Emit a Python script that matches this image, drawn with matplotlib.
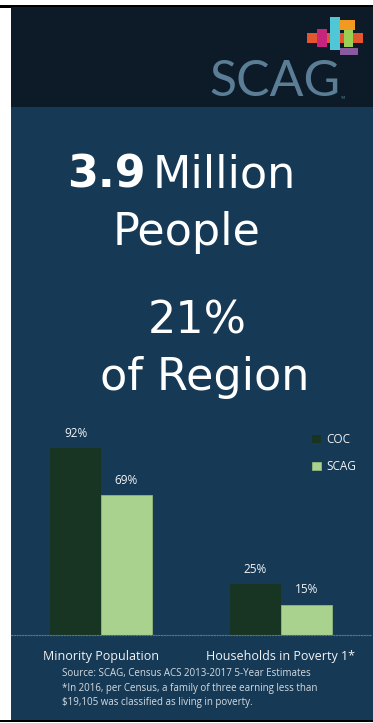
import matplotlib.pyplot as plt
from matplotlib.patches import Rectangle
import numpy as np

# data
categories = ["Minority Population", "Households in Poverty 1*"]
series = ["COC", "SCAG"]
coc_values = [92, 25]
scag_values = [69, 15]

W, H = 373, 723
DPI = 100
header_col = "#0d1b28"
panel_col = "#163a56"
coc_col = "#183422"
scag_col = "#a8d28e"
txt_col = "#f2f4f6"
font = "Open Sans"
big_font = "DejaVu Sans"

fig = plt.figure(figsize=(W / DPI, H / DPI), dpi=DPI)
fig.patch.set_facecolor("white")

# full-figure axes in pixel units for background / text
bg = fig.add_axes((0, 0, 1, 1))
bg.set_xlim(0, W)
bg.set_ylim(H, 0)
bg.axis("off")

bg.add_patch(Rectangle((0, 5), W, 2.5, color="black", lw=0))
bg.add_patch(Rectangle((11, 7), W - 11, 100, color=header_col, lw=0))
bg.add_patch(Rectangle((11, 107), W - 11, 613, color=panel_col, lw=0))
bg.add_patch(Rectangle((0, 719.5), W, 2.5, color="black", lw=0))

# logo blocks
logo = [
    (307, 33, 56, 10, "#e4572e"),
    (330, 17, 10, 33, "#4fc7d6"),
    (340, 20, 15, 10, "#f29a1f"),
    (317, 29, 10, 18, "#c7247e"),
    (344, 30, 9, 17, "#9bcf53"),
    (340, 48, 18, 7, "#8a5a9e"),
]
for x, y, w, h, c in logo:
    bg.add_patch(Rectangle((x, y), w, h, color=c, lw=0))
bg.text(275, 96, "SCAG", color="#5b7e96", fontsize=36, family="Lato",
        ha="center", va="baseline")
bg.text(340, 99, "TM", color="#5b7e96", fontsize=2.5, ha="left", va="baseline")

# headline text
bg.text(67, 187, "3.9", color="white", fontsize=32, family=big_font,
        weight="bold", ha="left", va="baseline")
bg.text(153, 187, "Million", color="white", fontsize=32, family=big_font,
        ha="left", va="baseline")
bg.text(187, 245, "People", color="white", fontsize=32, family=big_font,
        ha="center", va="baseline")
bg.text(197, 333, "21%", color="white", fontsize=32, family=big_font,
        ha="center", va="baseline")
bg.text(205, 390, "of Region", color="white", fontsize=32, family=big_font,
        ha="center", va="baseline")

bg.text(62, 668, "Source: SCAG, Census ACS 2013-2017 5-Year Estimates\n"
        "*In 2016, per Census, a family of three earning less than\n"
        "$19,105 was classified as living in poverty.",
        color="#d5dce2", fontsize=7, family=font, ha="left", va="top",
        linespacing=1.45)

# bar chart
ax = fig.add_axes((11 / W, (H - 635) / H, 360 / W, 203 / H))
ax.set_facecolor("none")
x = np.arange(len(categories))
bw = 0.283
b1 = ax.bar(x - bw / 2, coc_values, bw, color=coc_col, label=series[0])
b2 = ax.bar(x + bw / 2, scag_values, bw, color=scag_col, label=series[1],
            edgecolor="#8fb878", lw=0.6)
for bars, vals in ((b1, coc_values), (b2, scag_values)):
    for b, v in zip(bars, vals):
        ax.annotate(f"{v}%", (b.get_x() + b.get_width() / 2, v),
                    xytext=(0, 6), textcoords="offset points",
                    ha="center", va="bottom", color=txt_col, fontsize=8.5,
                    family=font)
ax.set_xlim(-0.5, 1.5)
ax.set_ylim(0, 100)
ax.set_xticks(x, categories)
ax.tick_params(axis="x", length=0, pad=11, labelcolor=txt_col, labelsize=9)
for t in ax.get_xticklabels():
    t.set_family(font)
ax.set_yticks([])
for s in ("top", "left", "right"):
    ax.spines[s].set_visible(False)
ax.spines["bottom"].set_color("#5f7688")
ax.spines["bottom"].set_linestyle((0, (1, 1.5)))
ax.spines["bottom"].set_linewidth(0.8)

leg = ax.legend(loc="upper left", bbox_to_anchor=(312 / W, (H - 433) / H),
                bbox_transform=fig.transFigure, frameon=False,
                handlelength=0.75, handleheight=0.75, handletextpad=0.45,
                labelspacing=1.2, borderpad=0, borderaxespad=0,
                prop={"family": font, "size": 8.5})
for t in leg.get_texts():
    t.set_color(txt_col)

fig.savefig("out.png", dpi=DPI)
